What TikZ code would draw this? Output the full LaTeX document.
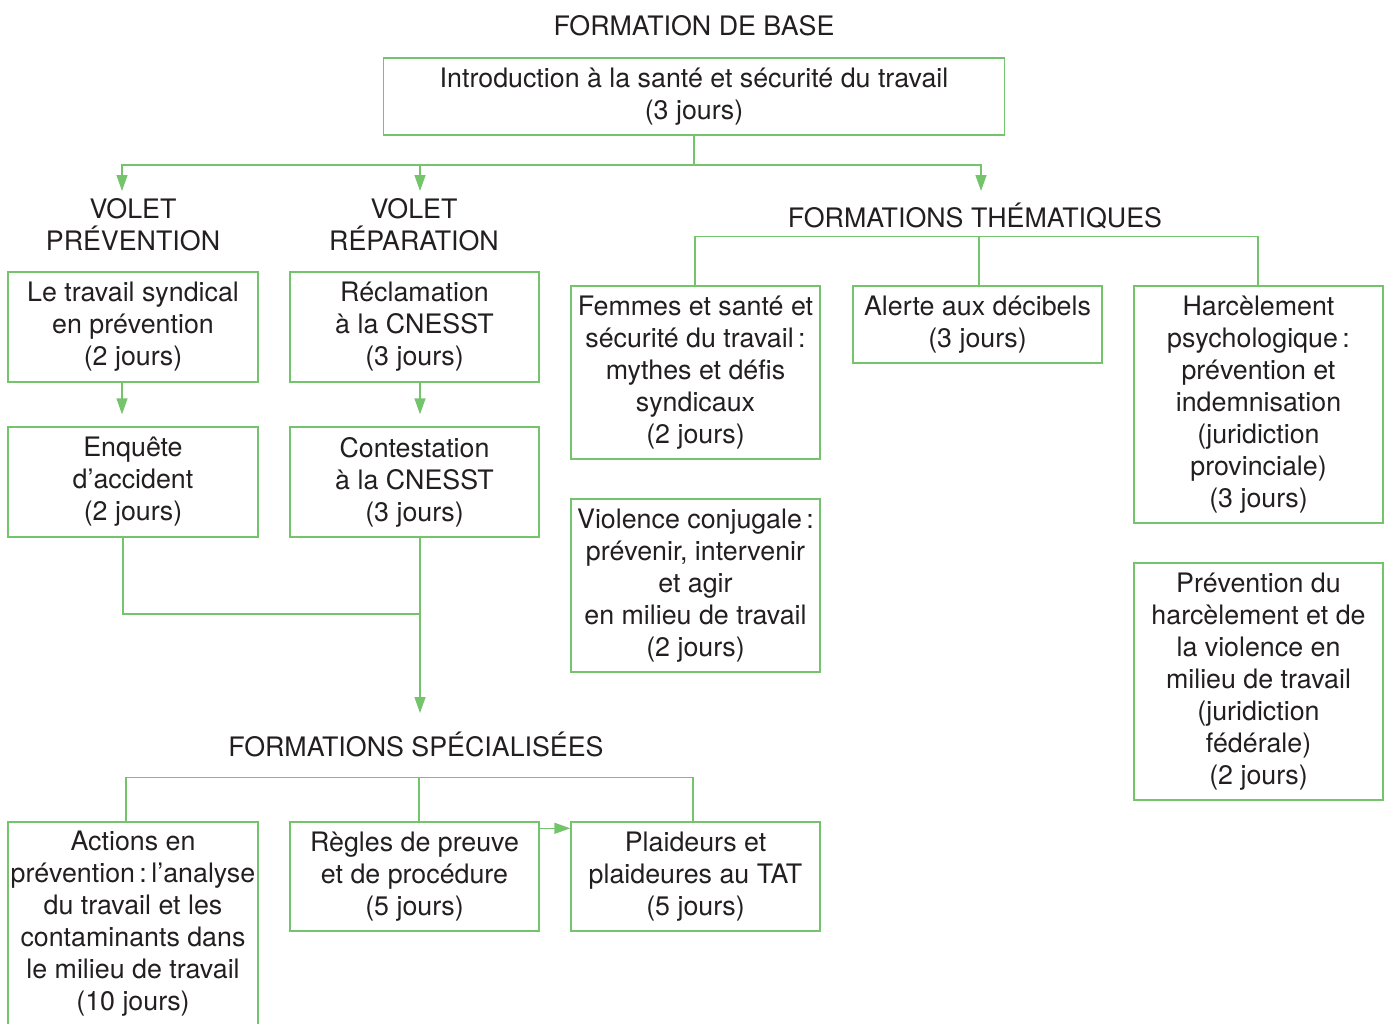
\documentclass[tikz,border=0pt]{standalone}
\usepackage{fontspec}
\setmainfont{TeX Gyre Heros}
\usetikzlibrary{arrows.meta}
\definecolor{grn}{HTML}{74C46C}
\definecolor{txt}{HTML}{231F20}
\begin{document}
\begin{tikzpicture}[x=1pt,y=-1pt,
  line/.style={draw=grn, line width=1.4pt},
  arr/.style={line, -{Triangle[length=16pt,width=11pt]}},
  box/.style={draw=grn, line width=1.4pt, align=center, text=txt,
    font=\fontsize{26.8}{32}\selectfont, inner sep=0pt},
  lab/.style={align=center, text=txt, font=\fontsize{26.8}{32}\selectfont, inner sep=0pt}]
\useasboundingbox (0,0) rectangle (1388,1023);

% labels
\node[lab] (title) at (694,26) {FORMATION DE BASE};
\node[lab] (vp) at (133,225) {VOLET\\PRÉVENTION};
\node[lab] (vr) at (414,225) {VOLET\\RÉPARATION};
\node[lab] (th) at (975,216) {FORMATIONS THÉMATIQUES};
\node[lab] (sp) at (416,744) {FORMATIONS SPÉCIALISÉES};

% boxes
\node[box, minimum width=621pt, minimum height=77pt] (top) at (694,96.5)
  {Introduction à la santé et sécurité du travail\\(3 jours)};
\node[box, minimum width=250pt, minimum height=110pt] (b1) at (133,327)
  {Le travail syndical\\en prévention\\(2 jours)};
\node[box, minimum width=250pt, minimum height=110pt] (b2) at (133,482)
  {Enquête\\d’accident\\(2 jours)};
\node[box, minimum width=249pt, minimum height=110pt] (b3) at (414.5,327)
  {Réclamation\\à la CNESST\\(3 jours)};
\node[box, minimum width=249pt, minimum height=110pt] (b4) at (414.5,482)
  {Contestation\\à la CNESST\\(3 jours)};

\node[box, minimum width=250pt, minimum height=203pt] (s1) at (133,923.5)
  {Actions en\\prévention\,:\,l’analyse\\du travail et les\\contaminants dans\\le milieu de travail\\(10 jours)};
\node[box, minimum width=249pt, minimum height=109pt] (s2) at (414.5,876.5)
  {Règles de preuve\\et de procédure\\(5 jours)};
\node[box, minimum width=249pt, minimum height=109pt] (s3) at (695.5,876.5)
  {Plaideurs et\\plaideures au TAT\\(5 jours)};

\node[box, minimum width=249pt, minimum height=173pt] (t1) at (695.5,372.5)
  {Femmes et santé et\\sécurité du travail\,:\\mythes et défis\\syndicaux\\(2 jours)};
\node[box, minimum width=249pt, minimum height=77pt] (t2) at (977.5,324.5)
  {Alerte aux décibels\\(3 jours)};
\node[box, minimum width=249pt, minimum height=237pt] (t3) at (1258.5,404.5)
  {Harcèlement\\psychologique\,:\\prévention et\\indemnisation\\(juridiction\\provinciale)\\(3 jours)};
\node[box, minimum width=249pt, minimum height=173pt] (t4) at (695.5,585.5)
  {Violence conjugale\,:\\prévenir, intervenir\\et agir\\en milieu de travail\\(2 jours)};
\node[box, minimum width=249pt, minimum height=237pt] (t5) at (1258.5,681.5)
  {Prévention du\\harcèlement et de\\la violence en\\milieu de travail\\(juridiction\\fédérale)\\(2 jours)};

% coordinates
\coordinate (jTop) at (694,165);
\coordinate (aVP) at (122,191);
\coordinate (aVR) at (420,191);
\coordinate (aTH) at (981,191);
\coordinate (mJ) at (420,614);
\coordinate (aSP) at (420,713);

% connectors
\draw[line] (top.south) -- (jTop);
\draw[arr] (jTop) -| (aVP);
\draw[arr] (jTop) -| (aVR);
\draw[arr] (jTop) -| (aTH);

\draw[arr] ([xshift=-11pt]b1.south) -- ([xshift=-11pt,yshift=12pt]b2.north);
\draw[arr] ([xshift=5.5pt]b3.south) -- ([xshift=5.5pt,yshift=12pt]b4.north);

\draw[line] ([xshift=-10pt]b2.south) |- (mJ);
\draw[arr] ([xshift=5.5pt]b4.south) -- (aSP);

\draw[line] ([xshift=-7pt]s1.north) -- ++(0,-44) -| ([xshift=-2.5pt]s3.north);
\draw[line] ([xshift=4.5pt]s2.north) -- ++(0,-44);
\draw[arr] ([yshift=-7pt]s2.north east) -- ([yshift=-7pt]s3.north west);

\draw[line] ([xshift=-0.5pt]t1.north) -- ++(0,-49) -| ([xshift=-0.5pt]t3.north);
\draw[line] ([xshift=1.5pt]t2.north) -- ++(0,-49);
\end{tikzpicture}
\end{document}
